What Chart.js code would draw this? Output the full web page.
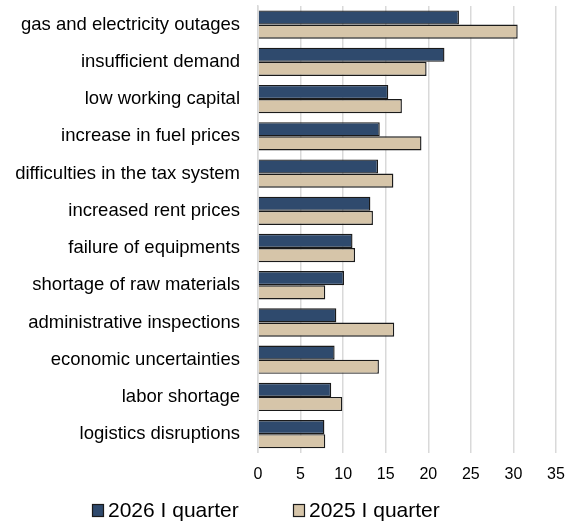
<!DOCTYPE html>
<html>
<head>
<meta charset="utf-8">
<script src="https://cdn.jsdelivr.net/npm/chart.js@4.4.1/dist/chart.umd.min.js"></script>
<style>
  html, body { margin: 0; padding: 0; background: #fff; }
  #wrap { width: 582px; height: 522px; }
</style>
</head>
<body>
<div id="wrap"><canvas id="obstacles"></canvas></div>
<script>
// Obstacles to business activity, % of respondents
const categories = [
  'gas and electricity outages',
  'insufficient demand',
  'low working capital',
  'increase in fuel prices',
  'difficulties in the tax system',
  'increased rent prices',
  'failure of equipments',
  'shortage of raw materials',
  'administrative inspections',
  'economic uncertainties',
  'labor shortage',
  'logistics disruptions'
];
const q2026 = [23.6, 21.9, 15.3, 14.3, 14.1, 13.2, 11.1, 10.1, 9.2, 9.0, 8.6, 7.8];
const q2025 = [30.5, 19.8, 16.9, 19.2, 15.9, 13.5, 11.4, 7.9, 16.0, 14.2, 9.9, 7.9];
const xTicks = [0, 5, 10, 15, 20, 25, 30, 35];

const FONT = 'Liberation Sans, Arial, sans-serif';

// legend drawn by hand: Chart.js puts too much gap between box and text
const bottomLegend = {
  id: 'bottomLegend',
  afterDraw: function(chart) {
    const c = chart.ctx;
    const starts = [92, 293];
    c.save();
    c.font = '21px ' + FONT;
    c.textBaseline = 'middle';
    c.textAlign = 'left';
    chart.data.datasets.forEach(function(ds, i) {
      const x = starts[i];
      c.fillStyle = ds.backgroundColor;
      c.fillRect(x, 504, 12, 13);
      c.strokeStyle = '#1a1a1a';
      c.lineWidth = 1.2;
      c.strokeRect(x + 0.5, 504.5, 11, 12);
      c.fillStyle = '#000';
      c.fillText(ds.label, x + 16, 511);
    });
    c.restore();
  }
};

document.addEventListener('DOMContentLoaded', function() {
  const ctx = document.getElementById('obstacles');
  new Chart(ctx, {
    type: 'bar',
    data: {
      labels: categories,
      datasets: [{
        label: '2026 I quarter',
        data: q2026,
        backgroundColor: '#2f4a6d',
        borderColor: '#1a1a1a',
        borderWidth: 1.4,
        borderSkipped: 'left',
        categoryPercentage: 0.76,
        barPercentage: 1.0
      }, {
        label: '2025 I quarter',
        data: q2025,
        backgroundColor: '#d6c5a9',
        borderColor: '#1a1a1a',
        borderWidth: 1.4,
        borderSkipped: 'left',
        categoryPercentage: 0.76,
        barPercentage: 1.0
      }]
    },
    options: {
      indexAxis: 'y',
      responsive: true,
      maintainAspectRatio: false,
      animation: false,
      layout: { padding: { top: 6, right: 26, bottom: 26, left: 0 } },
      plugins: {
        tooltip: { enabled: false },
        legend: { display: false }
      },
      scales: {
        x: {
          min: 0,
          max: 35,
          afterBuildTicks: function(scale) {
            scale.ticks = xTicks.map(function(v) { return { value: v }; });
          },
          grid: { color: '#d9d9d9', lineWidth: 1.5, drawTicks: false },
          border: { display: false },
          ticks: {
            color: '#000',
            padding: 12,
            font: { family: FONT, size: 16 }
          }
        },
        y: {
          grid: { display: false, drawTicks: false },
          border: { display: true, color: '#d9d9d9', width: 1.5 },
          afterFit: function(scale) {
            scale.width = 258;
            scale.paddingTop = 0;
            scale.paddingBottom = 0;
          },
          ticks: {
            color: '#000',
            padding: 18,
            autoSkip: false,
            font: { family: FONT, size: 18.5 }
          }
        }
      }
    },
    plugins: [bottomLegend]
  });
});
</script>
</body>
</html>
